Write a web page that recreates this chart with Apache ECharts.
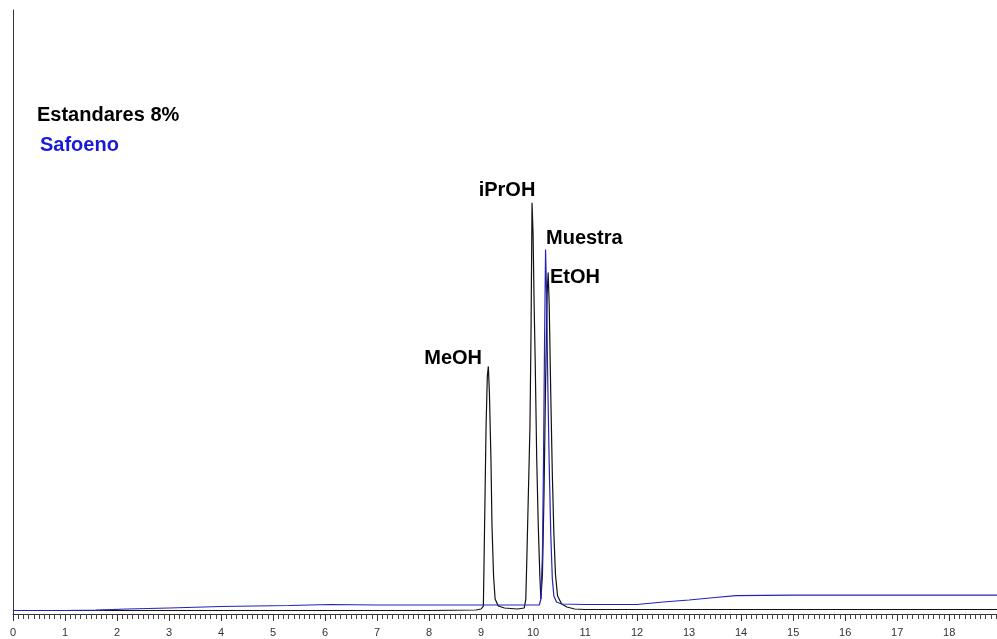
<!DOCTYPE html>
<html>
<head>
<meta charset="utf-8">
<script src="https://cdn.jsdelivr.net/npm/echarts@6/dist/echarts.min.js"></script>
<style>
  html, body { margin: 0; padding: 0; background: #fff; }
  #chart { width: 997px; height: 639px; }
</style>
</head>
<body>
<div id="chart"></div>
<script>
// retention time (min) and detector signal (arbitrary units)
const estandaresTime = [0, 1, 2, 3, 4, 5, 6, 7, 8, 8.9, 9.0, 9.044, 9.058, 9.077, 9.096, 9.12, 9.14, 9.16, 9.19, 9.21, 9.24, 9.27, 9.33, 9.45, 9.7,
  9.83, 9.86, 9.88, 9.91, 9.94, 9.96, 9.98, 10.00, 10.02, 10.04, 10.07, 10.10, 10.13, 10.15,
  10.18, 10.21, 10.24, 10.27, 10.29, 10.31, 10.34, 10.37, 10.40, 10.43, 10.47, 10.55, 10.65,
  10.8, 11, 12, 13, 14, 15, 16, 17, 18, 18.92];
const estandaresSignal = [3.5, 3.5, 3.5, 3.5, 3.5, 3.5, 3.5, 3.5, 3.5, 4, 5, 8, 55, 122, 188, 238, 248, 222, 155, 88, 38, 15, 8, 6, 5,
  6, 15, 55, 122, 188, 280, 412, 380, 310, 255, 155, 88, 38, 15,
  40, 120, 230, 320, 342, 310, 220, 140, 80, 40, 18, 10, 7,
  5, 4.5, 4.5, 4.5, 4.5, 4.5, 4.5, 4.5, 4.5, 4.5];

const safoenoTime = [0, 1, 1.6, 2.2, 3, 4, 5.3, 6.1, 7, 8, 9, 9.5, 10.0, 10.12, 10.15, 10.18, 10.20, 10.22, 10.24, 10.26, 10.28, 10.31,
  10.34, 10.37, 10.40, 10.45, 10.55, 11, 12, 12.5, 13, 13.5, 13.9, 15, 16, 17, 18, 18.92];
const safoenoSignal = [3.5, 3.5, 3.8, 5, 6, 7.5, 8.5, 9.5, 9, 9, 9, 9, 9, 9, 15, 60, 150, 270, 365, 320, 240, 150,
  80, 35, 18, 12, 10, 9.5, 9.5, 12, 14, 16.5, 18.5, 19, 19, 19, 19, 19];

const xTicks = [0, 18.92];
const yRange = [0, 605];

const peakLabels = [
  { text: 'iPrOH', x: 507, y: 190, align: 'center' },
  { text: 'Muestra', x: 546, y: 238, align: 'left' },
  { text: 'EtOH', x: 550, y: 277, align: 'left' },
  { text: 'MeOH', x: 482, y: 358, align: 'right' }
];

const pair = (xs, ys) => xs.map((t, i) => [t, ys[i]]);

const chart = echarts.init(document.getElementById('chart'));

const labelFont = 'bold 20px "Liberation Sans", Arial, sans-serif';

chart.setOption({
  animation: false,
  grid: { left: 13, right: 0, top: 10, bottom: 25 },
  xAxis: {
    type: 'value',
    min: xTicks[0],
    max: xTicks[1],
    interval: 1,
    axisLine: { show: true, onZero: false, lineStyle: { color: '#333', width: 1 } },
    axisTick: { show: true, length: 7, lineStyle: { color: '#333' } },
    minorTick: { show: true, splitNumber: 10, length: 5, lineStyle: { color: '#444' } },
    axisLabel: {
      showMaxLabel: false,
      color: '#333',
      fontSize: 11,
      margin: 13,
      fontFamily: '"Liberation Sans", Arial, sans-serif'
    },
    splitLine: { show: false }
  },
  yAxis: {
    type: 'value',
    min: yRange[0],
    max: yRange[1],
    axisLine: { show: true, lineStyle: { color: '#333', width: 1 } },
    axisTick: { show: false },
    axisLabel: { show: false },
    splitLine: { show: false }
  },
  series: [
    {
      name: 'Estandares 8%',
      type: 'line',
      symbol: 'none',
      data: pair(estandaresTime, estandaresSignal),
      lineStyle: { color: '#111', width: 1.2 }
    },
    {
      name: 'Safoeno',
      type: 'line',
      symbol: 'none',
      data: pair(safoenoTime, safoenoSignal),
      lineStyle: { color: '#2424b4', width: 1.2 }
    }
  ],
  graphic: [
    {
      type: 'text', x: 37, y: 115,
      style: { text: 'Estandares 8%', font: labelFont, fill: '#000', verticalAlign: 'middle' }
    },
    {
      type: 'text', x: 40, y: 145,
      style: { text: 'Safoeno', font: labelFont, fill: '#1a1ad6', verticalAlign: 'middle' }
    }
  ].concat(peakLabels.map(p => ({
    type: 'text', x: p.x, y: p.y,
    style: { text: p.text, font: labelFont, fill: '#000', align: p.align, verticalAlign: 'middle' }
  })))
});
</script>
</body>
</html>
